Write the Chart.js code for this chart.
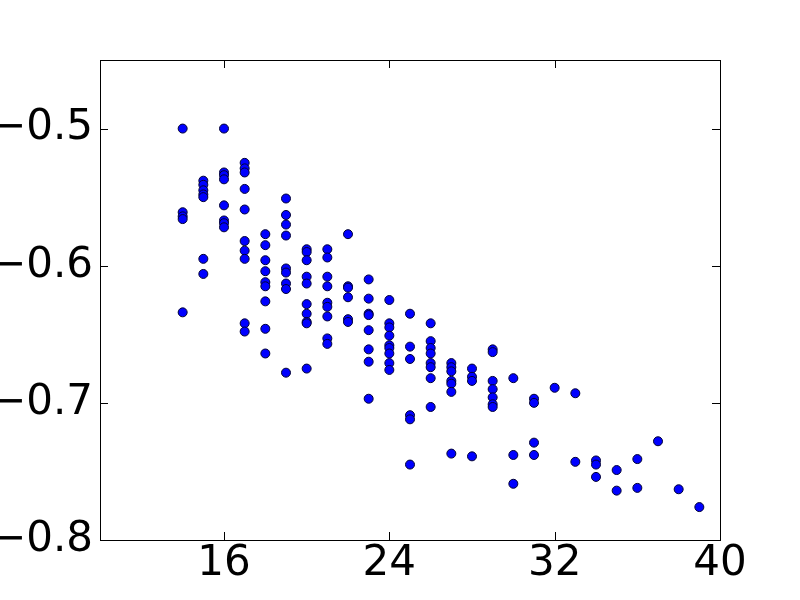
<!DOCTYPE html>
<html>
<head>
<meta charset="utf-8">
<script src="https://cdn.jsdelivr.net/npm/chart.js@4/dist/chart.umd.min.js"></script>
<style>
  html, body { margin: 0; padding: 0; background: #fff; }
  #wrap { width: 800px; height: 600px; }
</style>
</head>
<body>
<div id="wrap"><canvas id="chart" width="800" height="600"></canvas></div>
<script>
const xValues = [
  14, 14, 14, 14, 14,
  15, 15, 15, 15, 15, 15, 15,
  16, 16, 16, 16, 16, 16, 16, 16,
  17, 17, 17, 17, 17, 17, 17, 17, 17, 17,
  18, 18, 18, 18, 18, 18, 18, 18, 18,
  19, 19, 19, 19, 19, 19, 19, 19, 19,
  20, 20, 20, 20, 20, 20, 20, 20, 20, 20,
  21, 21, 21, 21, 21, 21, 21, 21, 21,
  22, 22, 22, 22, 22, 22,
  23, 23, 23, 23, 23, 23, 23, 23,
  24, 24, 24, 24, 24, 24, 24, 24, 24,
  25, 25, 25, 25, 25, 25,
  26, 26, 26, 26, 26, 26, 26, 26,
  27, 27, 27, 27, 27, 27, 27,
  28, 28, 28, 28,
  29, 29, 29, 29, 29, 29, 29,
  30, 30, 30,
  31, 31, 31, 31,
  32,
  33, 33,
  34, 34, 34,
  35, 35,
  36, 36,
  37,
  38,
  39
];
const yValues = [
  -0.500, -0.561, -0.564, -0.566, -0.634,
  -0.538, -0.541, -0.545, -0.548, -0.550, -0.595, -0.606,
  -0.500, -0.532, -0.534, -0.537, -0.556, -0.567, -0.569, -0.572,
  -0.525, -0.529, -0.532, -0.544, -0.559, -0.582, -0.589, -0.595, -0.642, -0.648,
  -0.577, -0.585, -0.596, -0.604, -0.612, -0.615, -0.626, -0.646, -0.664,
  -0.551, -0.563, -0.570, -0.578, -0.602, -0.605, -0.613, -0.617, -0.678,
  -0.588, -0.590, -0.596, -0.608, -0.613, -0.628, -0.635, -0.641, -0.642, -0.675,
  -0.588, -0.594, -0.608, -0.615, -0.627, -0.630, -0.637, -0.653, -0.657,
  -0.577, -0.615, -0.616, -0.623, -0.639, -0.641,
  -0.610, -0.624, -0.635, -0.636, -0.647, -0.661, -0.670, -0.697,
  -0.625, -0.642, -0.645, -0.651, -0.658, -0.660, -0.664, -0.671, -0.676,
  -0.635, -0.659, -0.668, -0.709, -0.712, -0.745,
  -0.642, -0.655, -0.660, -0.664, -0.671, -0.674, -0.682, -0.703,
  -0.671, -0.674, -0.677, -0.684, -0.686, -0.692, -0.737,
  -0.675, -0.681, -0.684, -0.739,
  -0.661, -0.663, -0.684, -0.690, -0.696, -0.701, -0.703,
  -0.682, -0.738, -0.759,
  -0.697, -0.700, -0.729, -0.738,
  -0.689,
  -0.693, -0.743,
  -0.742, -0.745, -0.754,
  -0.749, -0.764,
  -0.741, -0.762,
  -0.728,
  -0.763,
  -0.776
];
const xTicks = [16, 24, 32, 40];
const yTicks = [-0.8, -0.7, -0.6, -0.5];

const points = xValues.map((x, i) => ({ x: x, y: yValues[i] }));

// matplotlib-like frame with inward ticks on all four sides
const frame = {
  id: 'frame',
  afterDraw(chart) {
    const { ctx, chartArea: a, scales } = chart;
    ctx.save();
    ctx.strokeStyle = '#000';
    ctx.lineWidth = 1;
    ctx.strokeRect(a.left + 0.5, a.top + 0.5, a.right - a.left, a.bottom - a.top);
    ctx.beginPath();
    const len = 8;
    xTicks.forEach(v => {
      const px = Math.round(scales.x.getPixelForValue(v)) + 0.5;
      ctx.moveTo(px, a.bottom); ctx.lineTo(px, a.bottom - len);
      ctx.moveTo(px, a.top); ctx.lineTo(px, a.top + len);
    });
    yTicks.forEach(v => {
      const py = Math.round(scales.y.getPixelForValue(v)) + 0.5;
      ctx.moveTo(a.left, py); ctx.lineTo(a.left + len, py);
      ctx.moveTo(a.right, py); ctx.lineTo(a.right - len, py);
    });
    ctx.stroke();
    ctx.restore();
  }
};

const tickFont = { family: 'DejaVu Sans', size: 42 };

new Chart(document.getElementById('chart'), {
  type: 'scatter',
  data: {
    datasets: [{
      data: points,
      backgroundColor: '#0000ff',
      borderColor: '#000033',
      borderWidth: 1,
      pointRadius: 4.5,
      pointHoverRadius: 4.5
    }]
  },
  options: {
    responsive: false,
    animation: false,
    layout: { padding: { top: 60, right: 80, left: 0, bottom: 0 } },
    plugins: { legend: { display: false }, tooltip: { enabled: false } },
    scales: {
      x: {
        type: 'linear',
        min: 10,
        max: 40,
        afterBuildTicks: s => { s.ticks = xTicks.map(v => ({ value: v })); },
        afterFit: s => { s.height = 60; },
        grid: { display: false, drawTicks: false },
        border: { display: false },
        ticks: { color: '#000', font: tickFont, padding: -1, maxRotation: 0, autoSkip: false, callback: v => String(v) }
      },
      y: {
        type: 'linear',
        min: -0.8,
        max: -0.45,
        afterBuildTicks: s => { s.ticks = yTicks.map(v => ({ value: v })); },
        afterFit: s => { s.width = 100; },
        grid: { display: false, drawTicks: false },
        border: { display: false },
        ticks: { color: '#000', font: tickFont, padding: 7, autoSkip: false,
          callback: v => (v < 0 ? '\u2212' : '') + Math.abs(v).toFixed(1) }
      }
    }
  },
  plugins: [frame]
});
</script>
</body>
</html>
